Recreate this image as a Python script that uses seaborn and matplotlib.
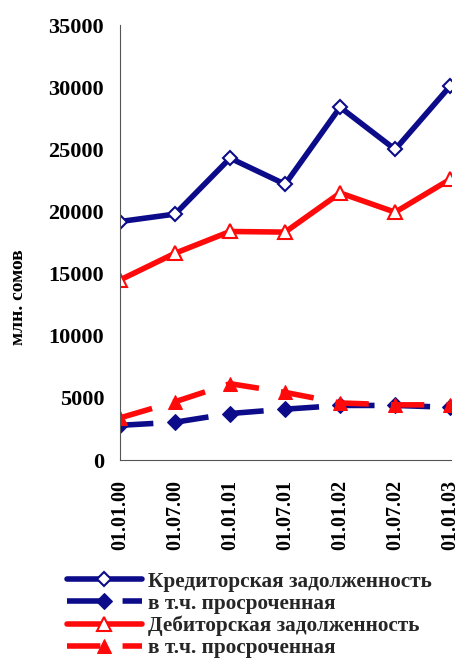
import matplotlib
matplotlib.use("Agg")
import matplotlib.pyplot as plt
import seaborn as sns

dates = ["01.01.00", "01.07.00", "01.01.01", "01.07.01", "01.01.02", "01.07.02", "01.01.03"]
kredit = [19200, 19800, 24300, 22200, 28400, 25000, 30100]
kredit_prosr = [2800, 3050, 3750, 4100, 4400, 4400, 4250]
debit = [14500, 16650, 18400, 18350, 21500, 19950, 22600]
debit_prosr = [3400, 4700, 6150, 5450, 4600, 4450, 4450]

labels = ["Кредиторская задолженность", "в т.ч. просроченная",
          "Дебиторская задолженность", "в т.ч. просроченная"]

BLUE = "#0c0c8a"
RED = "#ff0a0a"

sns.set_style("white")
plt.rcParams["font.family"] = ["Liberation Serif", "DejaVu Serif"]
plt.rcParams["font.weight"] = "bold"

fig = plt.figure(figsize=(4.6, 6.63), dpi=100)
ax = fig.add_axes([0.261, 0.306, 0.72, 0.656])

pos = list(range(len(dates)))
dash = (0, (6, 4))

sns.lineplot(x=pos, y=kredit, ax=ax, color=BLUE, linewidth=4, marker="D",
             markersize=7, markerfacecolor="white", markeredgecolor=BLUE,
             markeredgewidth=1.5, label=labels[0])
sns.lineplot(x=pos, y=kredit_prosr, ax=ax, color=BLUE, linewidth=4, marker="D",
             markersize=8, markerfacecolor=BLUE, markeredgecolor=BLUE,
             linestyle=dash, label=labels[1])
sns.lineplot(x=pos, y=debit, ax=ax, color=RED, linewidth=4, marker="^",
             markersize=10, markerfacecolor="white", markeredgecolor=RED,
             markeredgewidth=1.5, label=labels[2])
sns.lineplot(x=pos, y=debit_prosr, ax=ax, color=RED, linewidth=4, marker="^",
             markersize=10, markerfacecolor=RED, markeredgecolor=RED,
             linestyle=dash, label=labels[3])

ax.set_xlim(0, 6.02)
ax.set_ylim(0, 35000)
ax.set_yticks(range(0, 35001, 5000))
ax.set_xticks(pos)
ax.set_xticklabels(dates, rotation=90, fontsize=14.5, fontweight="bold")
ax.tick_params(axis="y", labelsize=16, direction="inout", length=9, width=0.8,
               color="#555555", labelcolor="black", pad=7)
ax.tick_params(axis="x", direction="out", length=5, width=0.8, color="#555555",
               labelcolor="black", pad=9)
for lab in ax.get_yticklabels():
    lab.set_fontweight("bold")

sns.despine(ax=ax, top=True, right=True)
for s in ["left", "bottom"]:
    ax.spines[s].set_color("#555555")
    ax.spines[s].set_linewidth(0.8)

ax.set_ylabel("млн. сомов", fontsize=14, fontweight="bold", color="black")
ax.yaxis.set_label_coords(-0.28, 0.375)

handles, labs = ax.get_legend_handles_labels()
ax.get_legend().remove()
fig.legend(handles, labs, loc="upper left", bbox_to_anchor=(0.146, 0.138),
           bbox_transform=fig.transFigure, frameon=False,
           handlelength=3.5, handletextpad=0.3, labelspacing=0.1,
           borderaxespad=0, borderpad=0, prop={"weight": "bold", "size": 15.3})

fig.savefig("out.png", dpi=100)
